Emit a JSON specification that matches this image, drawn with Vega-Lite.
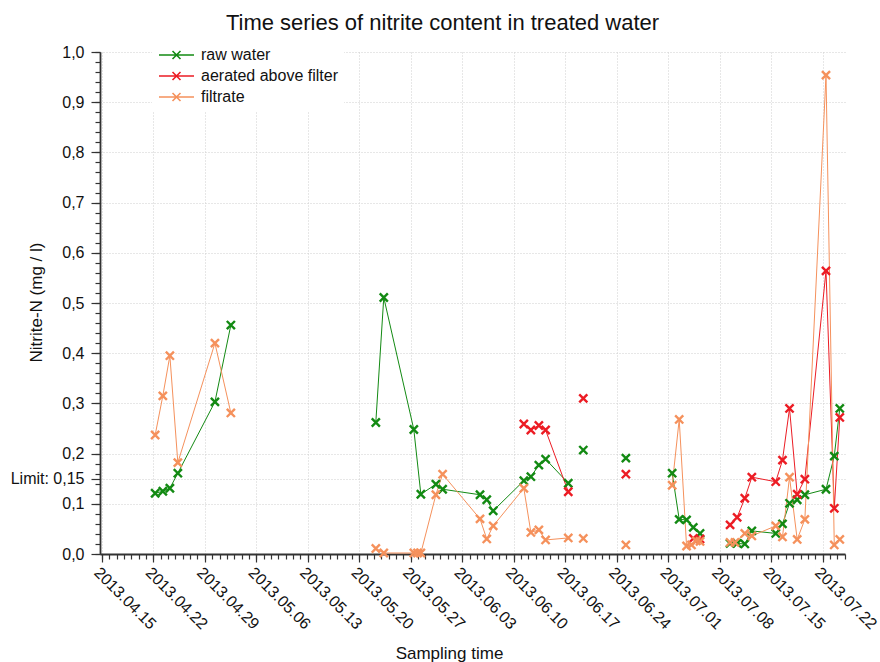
{
  "$schema": "https://vega.github.io/schema/vega-lite/v6.json",
  "autosize": "none",
  "width": 745,
  "height": 502,
  "padding": {"left": 100, "top": 52, "right": 35, "bottom": 108},
  "background": "white",
  "config": {"font": "Liberation Sans", "view": {"stroke": null}},
  "title": {"text": "Time series of nitrite content in treated water", "fontSize": 22, "fontWeight": "normal", "color": "#111111", "anchor": "middle", "frame": "group", "dx": -30, "offset": 6},
  "data": {"values": [
    {"t": "2013-04-22T06:00", "s": "raw water", "v": 0.121, "g": 1},
    {"t": "2013-04-23T07:00", "s": "raw water", "v": 0.125, "g": 1},
    {"t": "2013-04-24T06:00", "s": "raw water", "v": 0.131, "g": 1},
    {"t": "2013-04-25T08:00", "s": "raw water", "v": 0.161, "g": 1},
    {"t": "2013-04-30T09:00", "s": "raw water", "v": 0.303, "g": 1},
    {"t": "2013-05-02T13:00", "s": "raw water", "v": 0.456, "g": 1},
    {"t": "2013-05-22T06:00", "s": "raw water", "v": 0.262, "g": 2},
    {"t": "2013-05-23T08:00", "s": "raw water", "v": 0.511, "g": 2},
    {"t": "2013-05-27T10:00", "s": "raw water", "v": 0.248, "g": 2},
    {"t": "2013-05-28T09:00", "s": "raw water", "v": 0.119, "g": 2},
    {"t": "2013-05-30T10:00", "s": "raw water", "v": 0.139, "g": 2},
    {"t": "2013-05-31T08:00", "s": "raw water", "v": 0.129, "g": 2},
    {"t": "2013-06-05T10:00", "s": "raw water", "v": 0.118, "g": 2},
    {"t": "2013-06-06T08:00", "s": "raw water", "v": 0.108, "g": 2},
    {"t": "2013-06-07T05:00", "s": "raw water", "v": 0.086, "g": 2},
    {"t": "2013-06-11T09:00", "s": "raw water", "v": 0.146, "g": 2},
    {"t": "2013-06-12T08:00", "s": "raw water", "v": 0.154, "g": 2},
    {"t": "2013-06-13T10:00", "s": "raw water", "v": 0.177, "g": 2},
    {"t": "2013-06-14T08:00", "s": "raw water", "v": 0.189, "g": 2},
    {"t": "2013-06-17T10:00", "s": "raw water", "v": 0.141, "g": 2},
    {"t": "2013-06-19T11:00", "s": "raw water", "v": 0.207, "g": 3},
    {"t": "2013-06-25T06:00", "s": "raw water", "v": 0.191, "g": 4},
    {"t": "2013-07-01T13:00", "s": "raw water", "v": 0.161, "g": 5},
    {"t": "2013-07-02T12:00", "s": "raw water", "v": 0.069, "g": 5},
    {"t": "2013-07-03T12:00", "s": "raw water", "v": 0.068, "g": 5},
    {"t": "2013-07-04T10:00", "s": "raw water", "v": 0.053, "g": 5},
    {"t": "2013-07-05T08:00", "s": "raw water", "v": 0.041, "g": 5},
    {"t": "2013-07-09T10:00", "s": "raw water", "v": 0.021, "g": 6},
    {"t": "2013-07-10T09:00", "s": "raw water", "v": 0.021, "g": 6},
    {"t": "2013-07-11T10:00", "s": "raw water", "v": 0.020, "g": 6},
    {"t": "2013-07-12T09:00", "s": "raw water", "v": 0.046, "g": 6},
    {"t": "2013-07-15T15:00", "s": "raw water", "v": 0.041, "g": 6},
    {"t": "2013-07-16T13:00", "s": "raw water", "v": 0.060, "g": 6},
    {"t": "2013-07-17T12:00", "s": "raw water", "v": 0.101, "g": 6},
    {"t": "2013-07-18T13:00", "s": "raw water", "v": 0.108, "g": 6},
    {"t": "2013-07-19T14:00", "s": "raw water", "v": 0.118, "g": 6},
    {"t": "2013-07-22T11:00", "s": "raw water", "v": 0.129, "g": 6},
    {"t": "2013-07-23T14:00", "s": "raw water", "v": 0.195, "g": 6},
    {"t": "2013-07-24T08:00", "s": "raw water", "v": 0.290, "g": 6},

    {"t": "2013-06-11T09:00", "s": "aerated above filter", "v": 0.259, "g": 1},
    {"t": "2013-06-12T08:00", "s": "aerated above filter", "v": 0.247, "g": 1},
    {"t": "2013-06-13T10:00", "s": "aerated above filter", "v": 0.256, "g": 1},
    {"t": "2013-06-14T08:00", "s": "aerated above filter", "v": 0.247, "g": 1},
    {"t": "2013-06-17T10:00", "s": "aerated above filter", "v": 0.124, "g": 1},
    {"t": "2013-06-19T11:00", "s": "aerated above filter", "v": 0.310, "g": 2},
    {"t": "2013-06-25T06:00", "s": "aerated above filter", "v": 0.159, "g": 3},
    {"t": "2013-07-04T10:00", "s": "aerated above filter", "v": 0.031, "g": 4},
    {"t": "2013-07-05T08:00", "s": "aerated above filter", "v": 0.030, "g": 4},
    {"t": "2013-07-09T10:00", "s": "aerated above filter", "v": 0.058, "g": 5},
    {"t": "2013-07-10T09:00", "s": "aerated above filter", "v": 0.073, "g": 5},
    {"t": "2013-07-11T10:00", "s": "aerated above filter", "v": 0.111, "g": 5},
    {"t": "2013-07-12T09:00", "s": "aerated above filter", "v": 0.153, "g": 5},
    {"t": "2013-07-15T15:00", "s": "aerated above filter", "v": 0.144, "g": 5},
    {"t": "2013-07-16T13:00", "s": "aerated above filter", "v": 0.187, "g": 5},
    {"t": "2013-07-17T12:00", "s": "aerated above filter", "v": 0.290, "g": 5},
    {"t": "2013-07-18T13:00", "s": "aerated above filter", "v": 0.119, "g": 5},
    {"t": "2013-07-19T14:00", "s": "aerated above filter", "v": 0.149, "g": 5},
    {"t": "2013-07-22T11:00", "s": "aerated above filter", "v": 0.564, "g": 5},
    {"t": "2013-07-23T14:00", "s": "aerated above filter", "v": 0.091, "g": 5},
    {"t": "2013-07-24T08:00", "s": "aerated above filter", "v": 0.272, "g": 5},

    {"t": "2013-04-22T06:00", "s": "filtrate", "v": 0.237, "g": 1},
    {"t": "2013-04-23T07:00", "s": "filtrate", "v": 0.315, "g": 1},
    {"t": "2013-04-24T06:00", "s": "filtrate", "v": 0.395, "g": 1},
    {"t": "2013-04-25T08:00", "s": "filtrate", "v": 0.182, "g": 1},
    {"t": "2013-04-30T09:00", "s": "filtrate", "v": 0.420, "g": 1},
    {"t": "2013-05-02T13:00", "s": "filtrate", "v": 0.281, "g": 1},
    {"t": "2013-05-22T06:00", "s": "filtrate", "v": 0.011, "g": 2},
    {"t": "2013-05-23T08:00", "s": "filtrate", "v": 0.002, "g": 2},
    {"t": "2013-05-27T10:00", "s": "filtrate", "v": 0.002, "g": 2},
    {"t": "2013-05-27T22:00", "s": "filtrate", "v": 0.002, "g": 2},
    {"t": "2013-05-28T09:00", "s": "filtrate", "v": 0.002, "g": 2},
    {"t": "2013-05-30T10:00", "s": "filtrate", "v": 0.118, "g": 2},
    {"t": "2013-05-31T08:00", "s": "filtrate", "v": 0.159, "g": 2},
    {"t": "2013-06-05T10:00", "s": "filtrate", "v": 0.070, "g": 2},
    {"t": "2013-06-06T08:00", "s": "filtrate", "v": 0.030, "g": 2},
    {"t": "2013-06-07T05:00", "s": "filtrate", "v": 0.056, "g": 2},
    {"t": "2013-06-11T09:00", "s": "filtrate", "v": 0.131, "g": 2},
    {"t": "2013-06-12T08:00", "s": "filtrate", "v": 0.043, "g": 2},
    {"t": "2013-06-13T10:00", "s": "filtrate", "v": 0.048, "g": 2},
    {"t": "2013-06-14T08:00", "s": "filtrate", "v": 0.028, "g": 2},
    {"t": "2013-06-17T10:00", "s": "filtrate", "v": 0.032, "g": 2},
    {"t": "2013-06-19T11:00", "s": "filtrate", "v": 0.031, "g": 3},
    {"t": "2013-06-25T06:00", "s": "filtrate", "v": 0.018, "g": 4},
    {"t": "2013-07-01T13:00", "s": "filtrate", "v": 0.137, "g": 5},
    {"t": "2013-07-02T12:00", "s": "filtrate", "v": 0.268, "g": 5},
    {"t": "2013-07-03T12:00", "s": "filtrate", "v": 0.016, "g": 5},
    {"t": "2013-07-04T04:00", "s": "filtrate", "v": 0.018, "g": 5},
    {"t": "2013-07-04T20:00", "s": "filtrate", "v": 0.026, "g": 5},
    {"t": "2013-07-05T08:00", "s": "filtrate", "v": 0.025, "g": 5},
    {"t": "2013-07-09T10:00", "s": "filtrate", "v": 0.023, "g": 6},
    {"t": "2013-07-10T02:00", "s": "filtrate", "v": 0.023, "g": 6},
    {"t": "2013-07-11T10:00", "s": "filtrate", "v": 0.041, "g": 6},
    {"t": "2013-07-12T09:00", "s": "filtrate", "v": 0.036, "g": 6},
    {"t": "2013-07-15T15:00", "s": "filtrate", "v": 0.056, "g": 6},
    {"t": "2013-07-16T13:00", "s": "filtrate", "v": 0.034, "g": 6},
    {"t": "2013-07-17T12:00", "s": "filtrate", "v": 0.153, "g": 6},
    {"t": "2013-07-18T13:00", "s": "filtrate", "v": 0.029, "g": 6},
    {"t": "2013-07-19T14:00", "s": "filtrate", "v": 0.069, "g": 6},
    {"t": "2013-07-22T11:00", "s": "filtrate", "v": 0.954, "g": 6},
    {"t": "2013-07-23T14:00", "s": "filtrate", "v": 0.018, "g": 6},
    {"t": "2013-07-24T08:00", "s": "filtrate", "v": 0.029, "g": 6}
  ]},
  "layer": [
    {
      "mark": {"type": "line", "strokeWidth": 1},
      "encoding": {
        "x": {"field": "t", "type": "temporal",
          "scale": {"domain": [{"year": 2013, "month": 4, "date": 14, "hours": 18}, {"year": 2013, "month": 7, "date": 25, "hours": 1}], "nice": false},
          "axis": {
            "title": "Sampling time", "titleFontSize": 17, "titleFontWeight": "normal", "titleColor": "#111111",
            "titleX": 349, "titleY": 104, "titleAlign": "center", "titleBaseline": "alphabetic",
            "values": [
              {"year": 2013, "month": 4, "date": 15}, {"year": 2013, "month": 4, "date": 22}, {"year": 2013, "month": 4, "date": 29},
              {"year": 2013, "month": 5, "date": 6}, {"year": 2013, "month": 5, "date": 13}, {"year": 2013, "month": 5, "date": 20},
              {"year": 2013, "month": 5, "date": 27}, {"year": 2013, "month": 6, "date": 3}, {"year": 2013, "month": 6, "date": 10},
              {"year": 2013, "month": 6, "date": 17}, {"year": 2013, "month": 6, "date": 24}, {"year": 2013, "month": 7, "date": 1},
              {"year": 2013, "month": 7, "date": 8}, {"year": 2013, "month": 7, "date": 15}, {"year": 2013, "month": 7, "date": 22}
            ],
            "format": "%Y.%m.%d", "labelAngle": 45, "labelAlign": "left", "labelBaseline": "top",
            "labelFontSize": 16, "labelColor": "#111111", "labelPadding": 2, "labelOverlap": false, "labelFlush": false,
            "tickSize": 8, "tickColor": "#333333", "tickWidth": 1.2,
            "domainColor": "#333333", "domainWidth": 1.8,
            "grid": true, "gridColor": "#cfcfcf", "gridDash": [1, 2], "gridWidth": 1,
            "orient": "bottom"
          }
        },
        "y": {"field": "v", "type": "quantitative",
          "scale": {"domain": [0, 1], "nice": false, "zero": true},
          "axis": {
            "title": "Nitrite-N (mg / l)", "titleFontSize": 17, "titleFontWeight": "normal", "titleColor": "#111111",
            "titleX": -64, "titleY": 250, "titleAngle": -90, "titleAlign": "center", "titleBaseline": "middle",
            "values": [0, 0.1, 0.15, 0.2, 0.3, 0.4, 0.5, 0.6, 0.7, 0.8, 0.9, 1.0],
            "labelExpr": "datum.value == 0.15 ? 'Limit: 0,15' : replace(format(datum.value, '.1f'), '.', ',')",
            "labelFontSize": 16, "labelColor": "#111111", "labelPadding": 7, "labelOverlap": false, "labelFlush": false,
            "tickSize": 9, "tickColor": "#333333", "tickWidth": 1.2,
            "domainColor": "#333333", "domainWidth": 1.8,
            "grid": true, "gridColor": "#cfcfcf", "gridDash": [1, 2], "gridWidth": 1,
            "orient": "left"
          }
        },
        "color": {"field": "s", "type": "nominal",
          "scale": {"domain": ["raw water", "aerated above filter", "filtrate"], "range": ["#138a13", "#ec1c24", "#f5915c"]},
          "legend": {
            "title": null, "orient": "none", "legendX": 52, "legendY": -11,
            "fillColor": "white", "padding": 6, "rowPadding": 5,
            "labelFontSize": 16, "labelColor": "#111111", "labelOffset": 27,
            "symbolType": "M-1,0L4,0M0.93,-0.57L2.07,0.57M0.93,0.57L2.07,-0.57",
            "symbolSize": 196, "symbolStrokeWidth": 1.6, "symbolFillColor": "transparent"
          }
        },
        "detail": {"field": "g", "type": "nominal"}
      }
    },
    {
      "mark": {"type": "point", "shape": "M-1,-1L1,1M-1,1L1,-1", "filled": false, "strokeWidth": 2.4, "size": 66, "opacity": 1},
      "encoding": {
        "x": {"field": "t", "type": "temporal",
          "axis": {"orient": "bottom", "title": null, "labels": false, "grid": false, "domain": false, "tickCount": {"interval": "day", "step": 1}, "tickSize": 5, "tickColor": "#333333", "tickWidth": 1.2}
        },
        "y": {"field": "v", "type": "quantitative",
          "axis": {"orient": "left", "title": null, "labels": false, "grid": false, "domain": false,
            "values": [0, 0.02, 0.04, 0.06, 0.08, 0.1, 0.12, 0.14, 0.16, 0.18, 0.2, 0.22, 0.24, 0.26, 0.28, 0.3, 0.32, 0.34, 0.36, 0.38, 0.4, 0.42, 0.44, 0.46, 0.48, 0.5, 0.52, 0.54, 0.56, 0.58, 0.6, 0.62, 0.64, 0.66, 0.68, 0.7, 0.72, 0.74, 0.76, 0.78, 0.8, 0.82, 0.84, 0.86, 0.88, 0.9, 0.92, 0.94, 0.96, 0.98, 1.0],
            "tickSize": 5, "tickColor": "#333333", "tickWidth": 1.2}
        },
        "color": {"field": "s", "type": "nominal"}
      }
    }
  ],
  "resolve": {"axis": {"x": "independent", "y": "independent"}}
}
